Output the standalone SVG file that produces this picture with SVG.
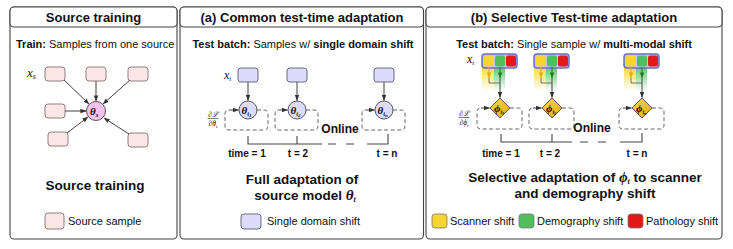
<svg xmlns="http://www.w3.org/2000/svg" width="733" height="249" viewBox="0 0 733 249">
<style>
.panel{fill:#fff;stroke:#444;stroke-width:1.1}
.hdr{fill:#fff;stroke:#444;stroke-width:1.1}
.htxt{font-family:"Liberation Sans",Arial,sans-serif;font-size:13px;font-weight:bold;fill:#111;text-anchor:middle}
.txt{font-family:"Liberation Sans",Arial,sans-serif;font-size:11px;fill:#111}
.b{font-weight:bold}
.big{font-family:"Liberation Sans",Arial,sans-serif;font-size:13.5px;font-weight:bold;fill:#111;text-anchor:middle}
.time{font-family:"Liberation Sans",Arial,sans-serif;font-size:10px;font-weight:bold;fill:#111;text-anchor:middle}
.online{font-family:"Liberation Sans",Arial,sans-serif;font-size:12px;font-weight:bold;fill:#111;text-anchor:middle}
.math{font-family:"Liberation Serif","Times New Roman",serif;font-style:italic;fill:#111}
.pink{fill:#fde6e6;stroke:#8e8080;stroke-width:1}
.lav{fill:#dcdcfa;stroke:#6a6a80;stroke-width:1}
.arr{stroke:#444;stroke-width:1;fill:none;marker-end:url(#ah)}
.loop{stroke:#666;stroke-width:1;fill:none;stroke-dasharray:4 2.5}
.br{stroke:#444;stroke-width:1.1;fill:none}
.brd{stroke:#444;stroke-width:1.1;fill:none;stroke-dasharray:8 10}
.dia{fill:url(#gold);stroke:#555;stroke-width:1}
.bar{fill:#c4c4ee;stroke:#6b6fc0;stroke-width:1.5}
.ys{fill:#f8d42c}
.gs{fill:#4fbf5c}
.rs{fill:#e01818}
</style>
<defs>
<marker id="ah" viewBox="0 0 8 6" refX="7.5" refY="3" markerWidth="6" markerHeight="5" markerUnits="userSpaceOnUse" orient="auto"><path d="M0,0 L8,3 L0,6 z" fill="#333"/></marker>
<marker id="ahy" viewBox="0 0 8 6" refX="7.5" refY="3" markerWidth="6" markerHeight="5" markerUnits="userSpaceOnUse" orient="auto"><path d="M0,0 L8,3 L0,6 z" fill="#e0b000"/></marker>
<marker id="ahg" viewBox="0 0 8 6" refX="7.5" refY="3" markerWidth="6" markerHeight="5" markerUnits="userSpaceOnUse" orient="auto"><path d="M0,0 L8,3 L0,6 z" fill="#1e7a2a"/></marker>
<linearGradient id="gold" x1="0" y1="0" x2="1" y2="1"><stop offset="0" stop-color="#f9d84a"/><stop offset="1" stop-color="#e2ac10"/></linearGradient>
<linearGradient id="gy" x1="0" y1="0" x2="0" y2="1"><stop offset="0" stop-color="#f8d42c" stop-opacity="0.9"/><stop offset="1" stop-color="#f8d42c" stop-opacity="0"/></linearGradient>
<linearGradient id="gg" x1="0" y1="0" x2="0" y2="1"><stop offset="0" stop-color="#4fbf5c" stop-opacity="0.9"/><stop offset="1" stop-color="#4fbf5c" stop-opacity="0"/></linearGradient>
</defs>

<!-- Panel frames -->
<g id="panel-source">
<rect class="panel" x="10" y="7" width="167" height="232" rx="4"/>
<rect class="hdr" x="10" y="7" width="167" height="20" rx="4"/>
<text class="htxt" x="93.5" y="22">Source training</text>
<text class="txt" x="16" y="47.5"><tspan class="b">Train:</tspan> Samples from one source</text>
</g>
<g id="panel-common">
<rect class="panel" x="180" y="7" width="243.5" height="232" rx="4"/>
<rect class="hdr" x="180" y="7" width="243.5" height="20" rx="4"/>
<text class="htxt" x="302" y="22">(a) Common test-time adaptation</text>
<text class="txt" x="303" y="47.5" text-anchor="middle"><tspan class="b">Test batch:</tspan> Samples w/ <tspan class="b">single domain shift</tspan></text>
</g>
<g id="panel-selective">
<rect class="panel" x="426" y="7" width="296" height="232" rx="4"/>
<rect class="hdr" x="426" y="7" width="296" height="20" rx="4"/>
<text class="htxt" x="574" y="22">(b) Selective Test-time adaptation</text>
<text class="txt" x="574" y="47.5" text-anchor="middle"><tspan class="b">Test batch:</tspan> Single sample w/ <tspan class="b">multi-modal shift</tspan></text>
</g>

<!-- Panel 1 nodes -->
<g id="src-samples">
<rect class="pink" x="45" y="67" width="20" height="14" rx="3"/>
<rect class="pink" x="86" y="67" width="20" height="14" rx="3"/>
<rect class="pink" x="128" y="67" width="20" height="14" rx="3"/>
<rect class="pink" x="45" y="104" width="20" height="14" rx="3"/>
<rect class="pink" x="48" y="132" width="20" height="14" rx="3"/>
<rect class="pink" x="128" y="133" width="20" height="14" rx="3"/>
<text class="math" x="27" y="77" font-size="13">x<tspan font-size="8" dy="2">s</tspan></text>
</g>
<g id="theta-s">
<circle cx="96" cy="111" r="9.5" fill="#f7c1f0" stroke="#555" stroke-width="1"/>
<text class="math" x="90" y="115" font-size="11" font-weight="bold">θ<tspan font-size="7" dy="2">s</tspan></text>
</g>

<!-- Panel 2 nodes -->
<g id="tgt-batch">
<rect class="lav" x="238" y="68" width="20" height="14" rx="3"/>
<rect class="lav" x="287" y="68" width="20" height="14" rx="3"/>
<rect class="lav" x="374" y="68" width="20" height="14" rx="3"/>
<text class="math" x="224" y="79" font-size="12">x<tspan font-size="7" dy="2">t</tspan></text>
</g>
<g id="theta-t">
<circle cx="248" cy="110" r="9" fill="#dcdcfa" stroke="#555" stroke-width="1"/>
<circle cx="297" cy="110" r="9" fill="#dcdcfa" stroke="#555" stroke-width="1"/>
<circle cx="384" cy="110" r="9" fill="#dcdcfa" stroke="#555" stroke-width="1"/>
<text class="math" x="241.5" y="114" font-size="11" font-weight="bold">θ<tspan font-size="6.5" dy="2">t</tspan><tspan font-size="5" dy="1">1</tspan></text>
<text class="math" x="290.5" y="114" font-size="11" font-weight="bold">θ<tspan font-size="6.5" dy="2">t</tspan><tspan font-size="5" dy="1">2</tspan></text>
<text class="math" x="377.5" y="114" font-size="11" font-weight="bold">θ<tspan font-size="6.5" dy="2">t</tspan><tspan font-size="5" dy="1">n</tspan></text>
</g>
<g id="grad-a">
<text class="math" x="213" y="116.5" font-size="7.5" text-anchor="middle">∂ℒ</text>
<line x1="207.5" y1="118.5" x2="218.5" y2="118.5" stroke="#222" stroke-width="0.6"/>
<text class="math" x="213" y="126" font-size="7.5" text-anchor="middle">∂θ<tspan font-size="5" dy="1.5">t</tspan></text>
</g>

<!-- Panel 3 nodes -->
<g id="glow">
<rect x="482" y="67" width="12" height="24" fill="url(#gy)"/>
<rect x="494" y="67" width="11" height="24" fill="url(#gg)"/>
<rect x="534" y="67" width="12" height="24" fill="url(#gy)"/>
<rect x="546" y="67" width="11" height="24" fill="url(#gg)"/>
<rect x="624" y="67" width="12" height="24" fill="url(#gy)"/>
<rect x="636" y="67" width="11" height="24" fill="url(#gg)"/>
</g>
<g id="sample-bars">
<rect class="bar" x="482" y="54" width="35" height="14" rx="3"/>
<rect class="ys" x="484" y="55.5" width="10" height="11" rx="2"/>
<rect class="gs" x="495" y="55.5" width="10" height="11" rx="2"/>
<rect class="rs" x="506" y="55.5" width="10" height="11" rx="2"/>
<rect class="bar" x="534" y="54" width="35" height="14" rx="3"/>
<rect class="ys" x="536" y="55.5" width="10" height="11" rx="2"/>
<rect class="gs" x="547" y="55.5" width="10" height="11" rx="2"/>
<rect class="rs" x="558" y="55.5" width="10" height="11" rx="2"/>
<rect class="bar" x="624" y="54" width="35" height="14" rx="3"/>
<rect class="ys" x="626" y="55.5" width="10" height="11" rx="2"/>
<rect class="gs" x="637" y="55.5" width="10" height="11" rx="2"/>
<rect class="rs" x="648" y="55.5" width="10" height="11" rx="2"/>
<text class="math" x="467" y="63" font-size="12">x<tspan font-size="7" dy="2">t</tspan></text>
</g>
<g id="phi-t">
<polygon class="dia" points="500,98 510,108 500,118 490,108"/>
<polygon class="dia" points="552,98 562,108 552,118 542,108"/>
<polygon class="dia" points="642,98 652,108 642,118 632,108"/>
<text class="math" x="494" y="112" font-size="11" font-weight="bold">ϕ<tspan font-size="6" dy="2">t</tspan><tspan font-size="4.5" dy="1">1</tspan></text>
<text class="math" x="546" y="112" font-size="11" font-weight="bold">ϕ<tspan font-size="6" dy="2">t</tspan><tspan font-size="4.5" dy="1">2</tspan></text>
<text class="math" x="636" y="112" font-size="11" font-weight="bold">ϕ<tspan font-size="6" dy="2">t</tspan><tspan font-size="4.5" dy="1">n</tspan></text>
</g>
<g id="grad-b">
<text class="math" x="464" y="115.5" font-size="7.5" text-anchor="middle">∂ℒ</text>
<line x1="458.5" y1="117.5" x2="469.5" y2="117.5" stroke="#222" stroke-width="0.6"/>
<text class="math" x="464" y="125" font-size="7.5" text-anchor="middle">∂ϕ<tspan font-size="5" dy="1.5">t</tspan></text>
</g>

<!-- Connectors -->
<g id="connectors">
<path class="arr" d="M64,80 L89,104"/>
<path class="arr" d="M96,81 L96,101"/>
<path class="arr" d="M130,80 L103,104"/>
<path class="arr" d="M65,111 L86,111"/>
<path class="arr" d="M67,133 L88,117"/>
<path class="arr" d="M129,134 L104,118"/>

<path class="arr" d="M248,82 L248,100.5"/>
<path class="arr" d="M297,82 L297,100.5"/>
<path class="arr" d="M384,82 L384,100.5"/>

<path class="loop" d="M257,110 H264 Q268,110 268,114 V126 Q268,130 264,130 H229 Q225,130 225,126 V114 Q225,110 229,110"/>
<path class="arr" d="M229,110 H238.5"/>
<path class="loop" d="M306,110 H314 Q318,110 318,114 V126 Q318,130 314,130 H279 Q275,130 275,126 V114 Q275,110 279,110"/>
<path class="arr" d="M279,110 H287.5"/>
<path class="loop" d="M393,110 H401 Q405,110 405,114 V126 Q405,130 401,130 H366 Q362,130 362,126 V114 Q362,110 366,110"/>
<path class="arr" d="M366,110 H374.5"/>

<path class="br" d="M248,136 V144 H322"/>
<path class="br" d="M297,136 V144"/>
<path class="brd" d="M328,144 H358"/>
<path class="br" d="M367,144 H388 V134"/>

<path d="M489,67 V78" stroke="#e0b000" stroke-width="1" marker-end="url(#ahy)"/>
<path d="M500,67 V78" stroke="#1e7a2a" stroke-width="1" marker-end="url(#ahg)"/>
<path d="M489,78 V83 H500" stroke="#555" stroke-width="0.8" fill="none"/>
<path class="arr" d="M500,78 V97.5"/>
<path d="M541,67 V78" stroke="#e0b000" stroke-width="1" marker-end="url(#ahy)"/>
<path d="M552,67 V78" stroke="#1e7a2a" stroke-width="1" marker-end="url(#ahg)"/>
<path d="M541,78 V83 H552" stroke="#555" stroke-width="0.8" fill="none"/>
<path class="arr" d="M552,78 V97.5"/>
<path d="M631,67 V78" stroke="#e0b000" stroke-width="1" marker-end="url(#ahy)"/>
<path d="M642,67 V78" stroke="#1e7a2a" stroke-width="1" marker-end="url(#ahg)"/>
<path d="M631,78 V83 H642" stroke="#555" stroke-width="0.8" fill="none"/>
<path class="arr" d="M642,78 V97.5"/>

<path class="loop" d="M510,108 H518 Q522,108 522,112 V125 Q522,129 518,129 H481 Q477,129 477,125 V112 Q477,108 481,108"/>
<path class="arr" d="M481,108 H489.5"/>
<path class="loop" d="M562,108 H570 Q574,108 574,112 V125 Q574,129 570,129 H533 Q529,129 529,125 V112 Q529,108 533,108"/>
<path class="arr" d="M533,108 H541.5"/>
<path class="loop" d="M652,108 H660 Q664,108 664,112 V125 Q664,129 660,129 H623 Q619,129 619,125 V112 Q619,108 623,108"/>
<path class="arr" d="M623,108 H631.5"/>

<path class="br" d="M501,134 V142 H572"/>
<path class="br" d="M552,134 V142"/>
<path class="brd" d="M580,142 H610"/>
<path class="br" d="M620,142 H642 V133"/>
</g>

<!-- Labels -->
<g id="labels">
<text class="big" x="95" y="190">Source training</text>
<text class="online" x="340" y="133">Online</text>
<text class="time" x="247" y="157">time = 1</text>
<text class="time" x="298" y="157">t = 2</text>
<text class="time" x="387" y="157">t = n</text>
<text class="big" x="302" y="184">Full adaptation of</text>
<text class="big" x="305" y="200">source model <tspan class="math" font-size="15">θ<tspan font-size="8" dy="2">t</tspan></tspan></text>
<text class="online" x="592" y="132">Online</text>
<text class="time" x="501" y="157">time = 1</text>
<text class="time" x="550" y="157">t = 2</text>
<text class="time" x="637" y="157">t = n</text>
<text class="big" x="585" y="182">Selective adaptation of <tspan class="math" font-size="15">ϕ<tspan font-size="8" dy="2">t</tspan></tspan><tspan dy="-2"> to scanner</tspan></text>
<text class="big" x="585" y="198">and demography shift</text>
</g>

<!-- Legends -->
<g id="legend-source">
<rect class="pink" x="45" y="213" width="19" height="16" rx="3"/>
<text class="txt" x="68" y="225">Source sample</text>
</g>
<g id="legend-single">
<rect class="lav" x="241" y="214" width="20" height="15" rx="3"/>
<text class="txt" x="267" y="225">Single domain shift</text>
</g>
<g id="legend-multi">
<rect x="432" y="214" width="15" height="14" rx="3" fill="#f8d42c" stroke="#777" stroke-width="0.8"/>
<text class="txt" x="450" y="225">Scanner shift</text>
<rect x="519" y="214" width="15" height="14" rx="3" fill="#4fbf5c" stroke="#777" stroke-width="0.8"/>
<text class="txt" x="537" y="225">Demography shift</text>
<rect x="628" y="214" width="15" height="14" rx="3" fill="#e01818" stroke="#777" stroke-width="0.8"/>
<text class="txt" x="646" y="225">Pathology shift</text>
</g>
</svg>
